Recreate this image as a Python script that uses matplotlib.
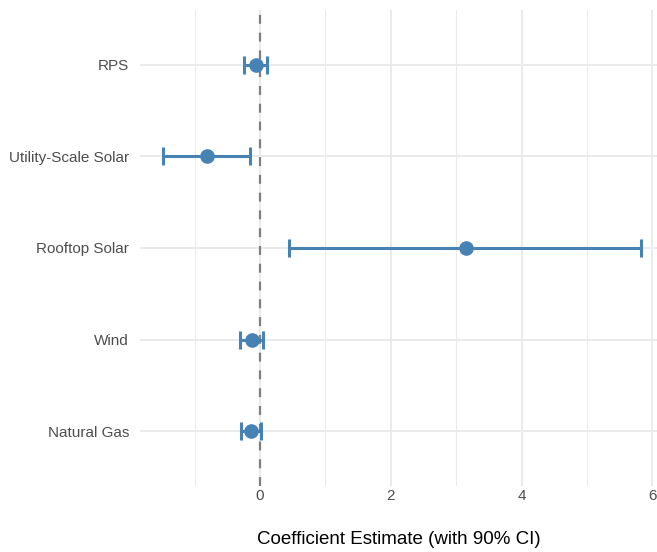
import numpy as np
import matplotlib.pyplot as plt

plt.rcParams['font.family'] = ['Liberation Sans', 'DejaVu Sans']

# coefficient estimates with 90% CI, bottom to top
terms = ["Natural Gas", "Wind", "Rooftop Solar", "Utility-Scale Solar", "RPS"]
estimate = [-0.14, -0.12, 3.145, -0.815, -0.066]
ci_low = [-0.29, -0.31, 0.45, -1.48, -0.24]
ci_high = [0.01, 0.05, 5.83, -0.16, 0.10]

estimate = np.array(estimate)
ci_low = np.array(ci_low)
ci_high = np.array(ci_high)
ypos = np.arange(1, len(terms) + 1)

fig = plt.figure(figsize=(6.57, 5.52), dpi=100)
ax = fig.add_axes([140 / 657, 1 - 486 / 552, 517 / 657, 476 / 552])

grid = "#EBEBEB"
for x in [-1, 1, 3, 5]:
    ax.axvline(x, color=grid, lw=0.8, zorder=0)
for x in [0, 2, 4, 6]:
    ax.axvline(x, color=grid, lw=1.4, zorder=0)
for y in ypos:
    ax.axhline(y, color=grid, lw=1.4, zorder=0)

ax.axvline(0, color="#7F7F7F", lw=1.6, ls=(0, (4, 4)), zorder=1)

ax.errorbar(estimate, ypos, xerr=[estimate - ci_low, ci_high - estimate],
            fmt="o", color="#4682B4", ms=9.5, elinewidth=2.2, capsize=6.5,
            capthick=2.2, zorder=3)

ax.set_xlim(-1.835, 6.07)
ax.set_ylim(0.4, 5.6)
ax.set_xticks([0, 2, 4, 6])
ax.set_yticks(ypos)
ax.set_yticklabels(terms)
ax.tick_params(axis="both", length=0, labelsize=11, labelcolor="#4D4D4D")
ax.tick_params(axis="y", pad=8)
ax.tick_params(axis="x", pad=2)
for s in ax.spines.values():
    s.set_visible(False)

ax.set_xlabel("Coefficient Estimate (with 90% CI)", fontsize=13.5, color="black", labelpad=20)

fig.savefig("out.png", dpi=100)
